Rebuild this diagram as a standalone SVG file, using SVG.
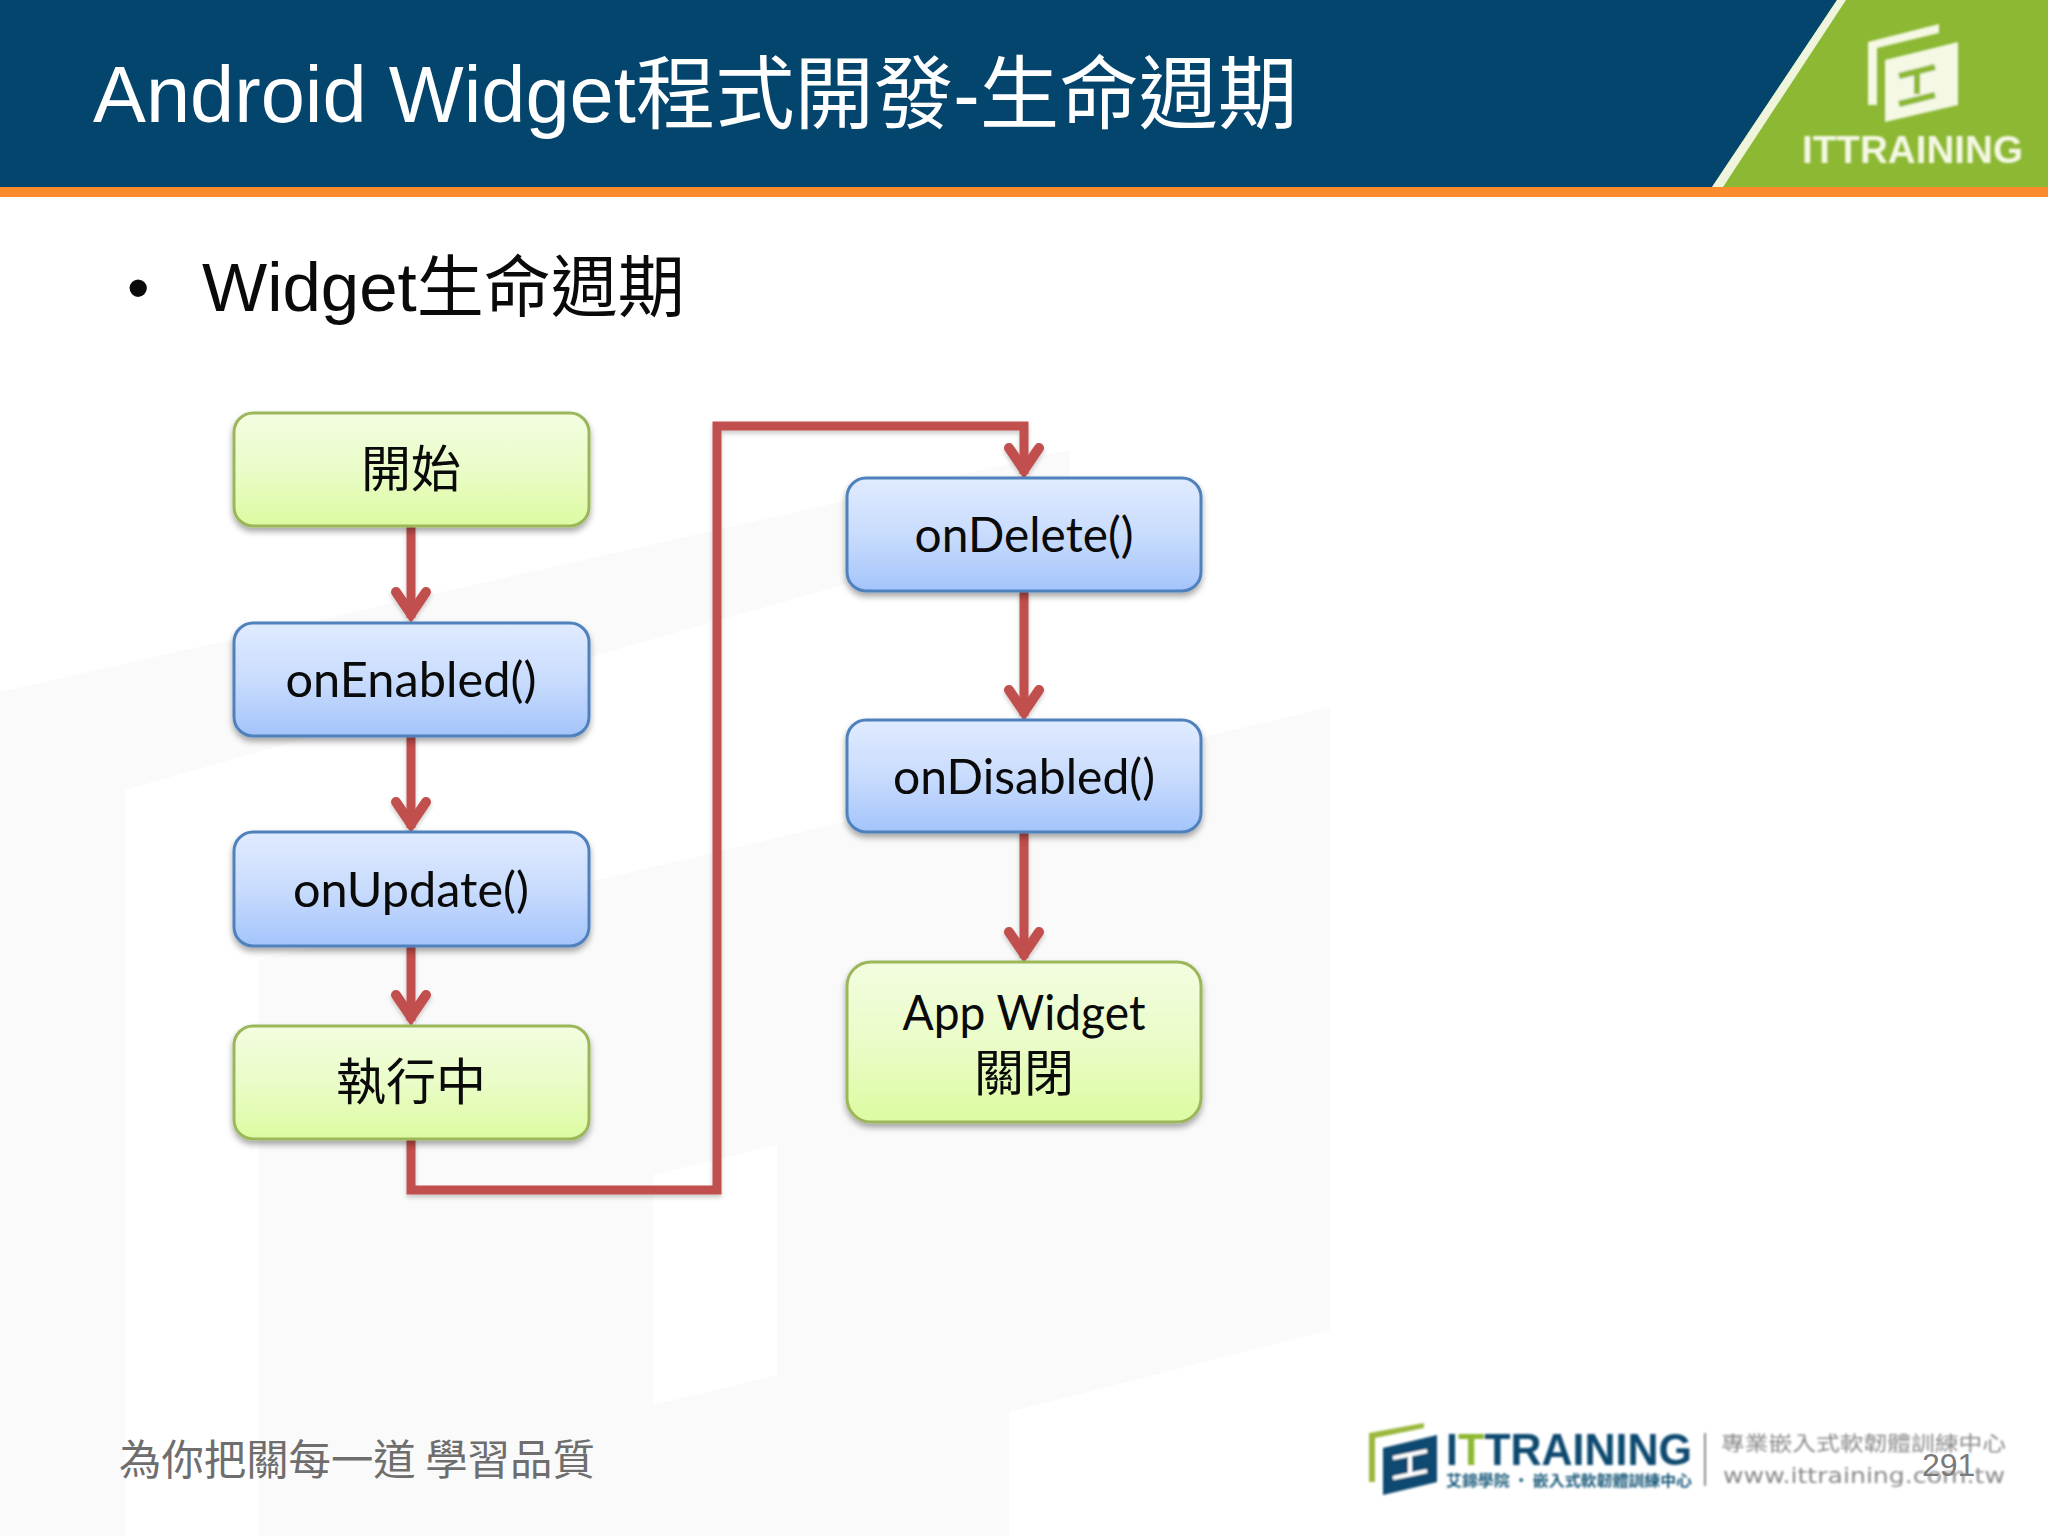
<svg xmlns="http://www.w3.org/2000/svg" width="2048" height="1536" viewBox="0 0 2048 1536">
<style>
.lat{font-family:"Lato","Noto Sans CJK TC",sans-serif;font-size:48px;fill:#0a0a0a;text-anchor:middle}
.cjk{font-family:"Noto Sans CJK TC",sans-serif;font-size:50px;fill:#0a0a0a;text-anchor:middle}
.g rect{fill:url(#green);stroke:#9bb75a;stroke-width:3}
.b rect{fill:url(#blue);stroke:#4f81bd;stroke-width:3}
.g rect,.b rect{filter:url(#sh)}
.wm{fill:#fafafb}
.w{fill:#fff}
.c path{fill:none;stroke:#c0504d;stroke-width:9}
.gl{font-family:"Noto Sans CJK TC",sans-serif;fill:#8a8a8a}
</style>
<defs>
<linearGradient id="green" x1="0" y1="0" x2="0" y2="1"><stop offset="0" stop-color="#f3fde0"/><stop offset=".5" stop-color="#eafcc8"/><stop offset="1" stop-color="#dcfba0"/></linearGradient>
<linearGradient id="blue" x1="0" y1="0" x2="0" y2="1"><stop offset="0" stop-color="#e0ebff"/><stop offset=".5" stop-color="#c9dcfd"/><stop offset="1" stop-color="#a3c4fb"/></linearGradient>
<filter id="sh" x="-5%" y="-10%" width="110%" height="125%"><feDropShadow dx="0" dy="4" stdDeviation="3" flood-color="#000" flood-opacity=".35"/></filter>
<filter id="ln" x="-5%" y="-5%" width="110%" height="110%"><feDropShadow dx="0" dy="3" stdDeviation="2" flood-color="#000" flood-opacity=".2"/></filter>
<filter id="bl" x="-5%" y="-10%" width="110%" height="120%"><feGaussianBlur stdDeviation=".9"/></filter>
<marker id="arr" markerUnits="userSpaceOnUse" markerWidth="60" markerHeight="60" refX="38" refY="30" orient="auto" viewBox="0 0 60 60"><path d="M12,15L34,30L12,45" fill="none" stroke="#c0504d" stroke-width="10" stroke-linecap="round" stroke-linejoin="miter"/></marker>
</defs>
<rect width="2048" height="1536" fill="#fff"/>
<g id="watermark">
<polygon class="wm" points="0,692 1070,450 1070,520 125,790 125,1536 0,1536"/>
<polygon class="wm" points="259,960 1330,707 1330,1330 1009,1412 1009,1536 259,1536"/>
<polygon class="w" points="653,1175 777,1145 777,1375 653,1405"/>
</g>
<g id="header">
<rect width="2048" height="187" fill="#03456c"/>
<polygon points="1712,187 1837,0 2048,0 2048,187" fill="#8cb833"/>
<polygon points="1712,187 1837,0 1846,0 1723,187" fill="#eef5dc"/>
<rect y="187" width="2048" height="10" fill="#fb8a2c"/>
<text x="93" y="122" font-family="'Liberation Sans','Noto Sans CJK TC',sans-serif" font-size="79.4" fill="#fff">Android Widget程式開發-生命週期</text>
<g id="header-logo" fill="#f4f8e4" filter="url(#bl)">
<polygon points="1868,42 1939,24 1939,33 1877,48 1877,105 1868,105"/>
<polygon points="1885,60 1958,42 1958,105 1885,122"/>
<path d="M1899,76l36,-9M1917,72v22M1899,104l36,-9" stroke="#8cb833" stroke-width="6" fill="none"/>
<text x="1802" y="163" font-family="'Liberation Sans',sans-serif" font-weight="700" font-size="39" textLength="221" lengthAdjust="spacingAndGlyphs">ITTRAINING</text>
</g>
</g>
<g id="bullet">
<text x="127" y="310" font-family="'Liberation Sans',sans-serif" font-size="64" fill="#0a0a0a">•</text>
<text x="202" y="311" font-family="'Liberation Sans','Noto Sans CJK TC',sans-serif" font-size="69" fill="#0a0a0a">Widget<tspan font-size="67">生命週期</tspan></text>
</g>
<g id="connectors" class="c" filter="url(#ln)">
<path d="M411,526V618" marker-end="url(#arr)"/>
<path d="M411,736V828" marker-end="url(#arr)"/>
<path d="M411,946V1021" marker-end="url(#arr)"/>
<path d="M411,1139V1190H717V426H1024V474" marker-end="url(#arr)"/>
<path d="M1024,591V716" marker-end="url(#arr)"/>
<path d="M1024,832V958" marker-end="url(#arr)"/>
</g>
<g id="n-start" class="g"><rect x="234" y="413" width="355" height="113" rx="19"/><text class="cjk" x="411" y="487">開始</text></g>
<g id="n-enabled" class="b"><rect x="234" y="623" width="355" height="113" rx="19"/><text class="lat" x="411" y="697" textLength="251" lengthAdjust="spacingAndGlyphs">onEnabled()</text></g>
<g id="n-update" class="b"><rect x="234" y="832" width="355" height="114" rx="19"/><text class="lat" x="411" y="907" textLength="236" lengthAdjust="spacingAndGlyphs">onUpdate()</text></g>
<g id="n-running" class="g"><rect x="234" y="1026" width="355" height="113" rx="19"/><text class="cjk" x="411" y="1100">執行中</text></g>
<g id="n-delete" class="b"><rect x="847" y="478" width="354" height="113" rx="19"/><text class="lat" x="1024" y="552" textLength="219" lengthAdjust="spacingAndGlyphs">onDelete()</text></g>
<g id="n-disabled" class="b"><rect x="847" y="720" width="354" height="112" rx="19"/><text class="lat" x="1024" y="794" textLength="262" lengthAdjust="spacingAndGlyphs">onDisabled()</text></g>
<g id="n-close" class="g"><rect x="847" y="962" width="354" height="160" rx="24"/><text class="lat" x="1024" y="1030" textLength="243" lengthAdjust="spacingAndGlyphs">App Widget</text><text class="cjk" x="1024" y="1091">關閉</text></g>
<g id="footer">
<text x="119" y="1475" font-family="'Noto Sans CJK TC',sans-serif" font-size="42.4" fill="#6e6e6e">為你把關每一道 學習品質</text>
<g id="footer-logo" filter="url(#bl)">
<polygon points="1369,1482 1369,1433 1424,1423 1424,1428 1375,1438 1375,1482" fill="#9ab83c"/>
<polygon points="1383,1448 1437,1435 1437,1482 1383,1495" fill="#0a4a70"/>
<path d="M1393,1458l34,-7M1410,1455v18M1393,1478l34,-7" stroke="#fff" stroke-width="4" fill="none"/>
<text x="1446" y="1465" font-family="'Liberation Sans',sans-serif" font-weight="700" font-size="44" textLength="246" lengthAdjust="spacingAndGlyphs" fill="#0a4a70">I<tspan fill="#8cb833">T</tspan>TRAINING</text>
<text x="1446" y="1486" font-family="'Noto Sans CJK TC',sans-serif" font-weight="700" font-size="15" textLength="246" lengthAdjust="spacingAndGlyphs" fill="#1a5a7a">艾鍗學院 · 嵌入式軟韌體訓練中心</text>
<rect x="1704" y="1433" width="2" height="53" fill="#8a8a8a"/>
<text class="gl" x="1721" y="1451" font-size="20" textLength="285" lengthAdjust="spacingAndGlyphs">專業嵌入式軟韌體訓練中心</text>
<text x="1723" y="1483" font-family="'DejaVu Sans',sans-serif" font-size="22" fill="#8a8a8a" textLength="282" lengthAdjust="spacingAndGlyphs">www.ittraining.com.tw</text>
</g>
<text x="1922" y="1476" font-family="'Liberation Sans',sans-serif" font-size="32" fill="#7a7a7a">291</text>
</g>
</svg>
